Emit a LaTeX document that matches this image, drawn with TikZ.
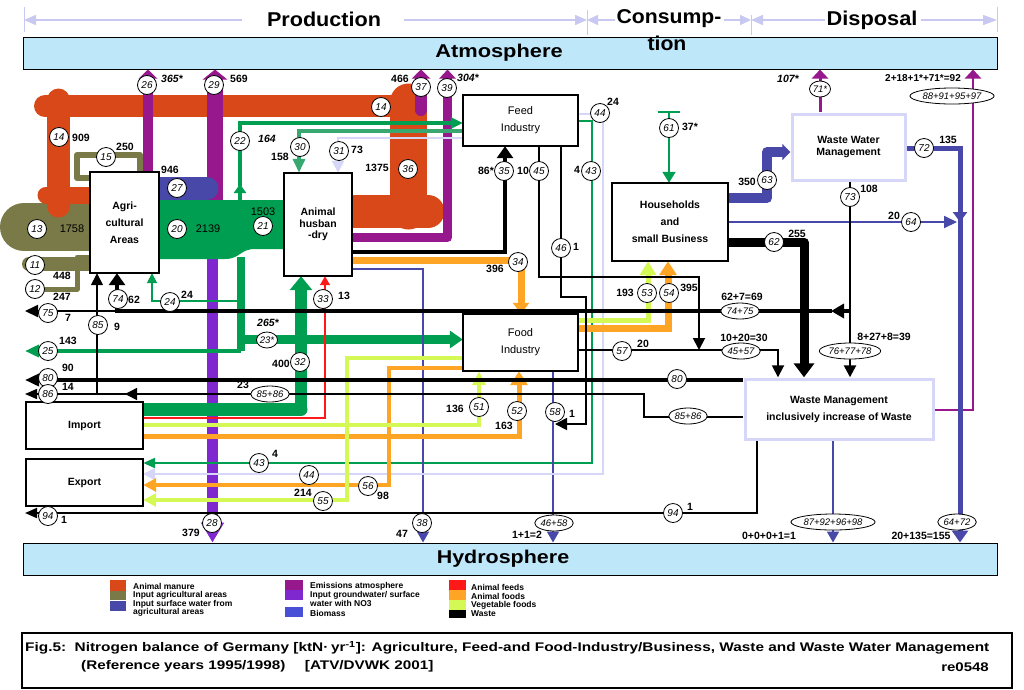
\documentclass[tikz,border=0pt]{standalone}
\usepackage{fontspec}
\setmainfont{Liberation Sans}
\usetikzlibrary{arrows.meta,shapes.geometric}
\definecolor{mn}{RGB}{216,72,24}
\definecolor{ol}{RGB}{122,122,72}
\definecolor{gr}{RGB}{0,158,80}
\definecolor{grt}{RGB}{56,168,112}
\definecolor{bl}{RGB}{72,72,168}
\definecolor{em}{RGB}{150,24,140}
\definecolor{gw}{RGB}{128,40,208}
\definecolor{bio}{RGB}{72,80,216}
\definecolor{og}{RGB}{255,165,38}
\definecolor{yg}{RGB}{212,248,84}
\definecolor{lv}{RGB}{214,214,248}
\definecolor{lvd}{RGB}{200,200,240}
\definecolor{sky}{RGB}{191,231,250}
\definecolor{rd}{RGB}{255,24,24}
\begin{document}
\begin{tikzpicture}[x=1pt,y=-1pt,
  box/.style={draw, fill=white, line width=1.1pt, inner sep=0pt, align=center,
     font=\bfseries\fontsize{10.5}{17}\selectfont},
  lbox/.style={box, draw=lv, line width=3pt},
  bar/.style={draw, fill=sky, line width=1pt, minimum width=974pt, minimum height=32pt, inner sep=0pt},
  ttl/.style={font=\bfseries\fontsize{20}{20}\selectfont, inner sep=0pt},
  cl/.style={circle, draw, fill=white, line width=0.8pt, inner sep=0pt, minimum size=19pt, font=\itshape\fontsize{10}{10}\selectfont},
  el/.style={ellipse, draw, fill=white, line width=0.8pt, inner sep=0.3pt, minimum height=16pt, font=\itshape\fontsize{9.5}{10}\selectfont},
  nm/.style={font=\bfseries\fontsize{10.5}{11}\selectfont, inner sep=0pt},
  nmi/.style={font=\bfseries\itshape\fontsize{10.5}{11}\selectfont, inner sep=0pt},
  nmr/.style={font=\fontsize{11}{11}\selectfont, inner sep=0pt},
  lg/.style={anchor=west, inner sep=0pt, font=\bfseries\fontsize{8.5}{9}\selectfont},
  arr/.style args={#1/#2}{-{Triangle[length=#1pt,width=#2pt]}},
]
\useasboundingbox (0,0) rectangle (1024,689);

% ---------------- bars ----------------
\node[bar] (atm) at (510,53) {};
\node[bar] (hyd) at (510,559) {};
\node[ttl, font=\bfseries\fontsize{18.5}{19}\selectfont] (atmt) at (499,53) {\scalebox{1.18}[1]{Atmosphere}};
\node[ttl, font=\bfseries\fontsize{18.5}{19}\selectfont] (hydt) at (503,559) {\scalebox{1.16}[1]{Hydrosphere}};

% ---------------- header ----------------
\node[ttl] (hprod) at (324,19) {\scalebox{1.08}[1]{Production}};
\node[ttl] (hcons) at (669,19) {\scalebox{1.06}[1]{Consump-}};
\node[ttl] (hcons2) at (667,43) {\scalebox{1.06}[1]{tion}};
\node[ttl] (hdisp) at (872,20) {\scalebox{1.09}[1]{Disposal}};
\coordinate (t1) at (24,20); \coordinate (t2) at (587,20);
\coordinate (t3) at (751,20); \coordinate (t4) at (997,20);
\draw[lvd, line width=1pt] (24,7) -- (24,32) (587,10) -- (587,35) (751,15) -- (751,35) (997,7) -- (997,32);
\draw[lvd, line width=1.5pt, arr=12/10] (242,20) -- (t1);
\draw[lvd, line width=1.5pt, arr=12/10] (404,20) -- (t2);
\draw[lvd, line width=1.5pt, arr=11/10] (615,20) -- (t2);
\draw[lvd, line width=1.5pt, arr=11/10] (724,20) -- (t3);
\draw[lvd, line width=1.5pt, arr=12/10] (825,20) -- (t3);
\draw[lvd, line width=1.5pt, arr=14/10] (921,20) -- (t4);

% ---------------- boxes (for anchors; drawn later) ----------------
\path[every node/.style={inner sep=0pt}]
  (124.5,222.5) node[minimum width=69pt, minimum height=101pt] (agri) {}
  (318,224.5) node[minimum width=68pt, minimum height=103pt] (ah) {}
  (520.5,120.5) node[minimum width=115pt, minimum height=51pt] (feed) {}
  (670,222) node[minimum width=116pt, minimum height=78pt] (hh) {}
  (848.5,147) node[minimum width=116pt, minimum height=69pt] (wwm) {}
  (520.5,342.5) node[minimum width=115pt, minimum height=57pt] (food) {}
  (839,409) node[minimum width=191pt, minimum height=63pt] (wm) {}
  (84.5,425.5) node[minimum width=117pt, minimum height=47pt] (imp) {}
  (84.5,482.5) node[minimum width=117pt, minimum height=47pt] (exp) {};

% ---------------- olive ----------------
\draw[ol, line width=48pt, line cap=round] (24,227) -- (agri.west |- 0,227);
\draw[ol, line width=14pt, line cap=round] (29,264) -- (agri.west |- 0,264);
\draw[ol, line width=5pt, line join=round] (agri.west |- 0,257) -- (77,257) -- (77,289) -- (25,289);
\draw[ol, line width=6pt, line join=round, line cap=round] (agri.west |- 0,178) -- (77,178) -- (77,155) -- (140,155) -- (140,0 |- agri.north);

% ---------------- manure ----------------
\draw[mn, line width=33pt, line cap=round] (ah.east |- 0,211.5) -- (428,211.5);
\draw[mn, line width=37pt, line cap=round] (408.5,211) -- (408.5,102);
\draw[mn, line width=22pt, line cap=round] (408,106) -- (45,106);
\draw[mn, line width=23pt, line cap=round] (58.5,100) -- (58.5,206);
\draw[mn, line width=17pt, line cap=round] (46,195) -- (agri.west |- 0,195);

% ---------------- emissions (purple) ----------------
\draw[em, line width=10pt, arr=9/18] (148,0 |- agri.north) -- (148,0 |- atm.south);
\draw[em, line width=16pt, arr=10/24] (215,205) -- (215,0 |- atm.south);
\draw[em, line width=12pt, line cap=round, arr=9/18] (421,110) -- (421,0 |- atm.south);
\draw[em, line width=9pt, line join=round, arr=9/16] (ah.east |- 0,237.5) -- (447.5,237.5) -- (447.5,0 |- atm.south);
\draw[em, line width=3pt, arr=9/16] (820,0 |- wwm.north) -- (820,0 |- atm.south);
\draw[em, line width=2.5pt, arr=9/16] (wm.east |- 0,410) -- (973,410) -- (973,0 |- atm.south);

% ---------------- groundwater (violet) ----------------
\draw[gw, line width=11pt, arr=20/22] (212.5,255) -- (212.5,0 |- hyd.north);

% ---------------- green ----------------
\fill[gr] (agri.east |- 0,200) -- (ah.west |- 0,200) -- (ah.west |- 0,249) -- (255,249)
   .. controls (240,249) and (240,259) .. (225,259) -- (agri.east |- 0,259) -- cycle;
\draw[gr, line width=4pt, arr=9/12] (240,203) -- (240,184);
\draw[gr, line width=4pt, arr=12/11] (240,186) -- (240,123) -- (feed.west |- 0,123);
\draw[grt, line width=4pt, arr=14/12] (feed.west |- 0,131) -- (299,131) -- (299,0 |- ah.north);
\draw[gr, line width=8pt] (241,257) -- (241,351);
\draw[gr, line width=9pt, arr=13/17] (237,339.5) -- (food.west |- 0,339.5);
\coordinate (o25) at (25,351);
\draw[gr, line width=4pt, arr=14/12] (241,351) -- (o25);
\draw[gr, line width=1.8pt, arr=10/10] (241,301) -- (152,301) -- (152,0 |- agri.south);
\draw[gr, line width=13pt, line cap=round] (imp.east |- 0,409.5) -- (301,409.5);
\draw[gr, line width=12pt, arr=14/22] (301,409) -- (301,0 |- ah.south);
\draw[gr, line width=2.5pt, arr=12/10] (feed.east |- 0,121) -- (592,121) -- (592,463) -- (exp.east |- 0,463);
\coordinate (g61) at (669,112);
\draw[gr, line width=2pt] (658,112) -- (680,112);
\draw[gr, line width=2pt, arr=11/13] (g61) -- (669,0 |- hh.north);

% ---------------- biomass / surface water (blue) ----------------
\draw[bl, line width=23pt, line cap=round] (agri.east |- 0,188.5) -- (207,188.5);
\draw[bl, line width=1.8pt, arr=11/12] (ah.east |- 0,269) -- (423,269) -- (423,0 |- hyd.north);
\draw[bl, line width=1.8pt, arr=11/12] (553,0 |- food.south) -- (553,0 |- hyd.north);
\draw[bl, line width=10pt, line join=round, arr=8/16] (hh.east |- 0,198) -- (767,198) -- (767,152) -- (wwm.west |- 0,152);
\draw[bl, line width=1.8pt, arr=13/12] (hh.east |- 0,222) -- (957,222);
\draw[bl, line width=5pt, arr=12/16] (wwm.east |- 0,148) -- (960,148) -- (960,0 |- hyd.north);
\draw[bl, line width=5pt, arr=10/14] (960,200) -- (960,222);
\draw[bl, line width=1.8pt, arr=11/12] (833,0 |- wm.south) -- (833,0 |- hyd.north);

% ---------------- lavender ----------------
\draw[lv, line width=2.5pt, arr=12/12] (feed.west |- 0,138) -- (338,138) -- (338,0 |- ah.north);
\draw[lv, line width=2.5pt, arr=12/12] (feed.east |- 0,114) -- (603,114) -- (603,474) -- (exp.east |- 0,474);

% ---------------- red ----------------
\draw[rd, line width=1.5pt, arr=9/10] (imp.east |- 0,418) -- (325,418) -- (325,0 |- ah.south);

% ---------------- orange ----------------
\draw[og, line width=7pt, arr=11/16] (ah.east |- 0,260) -- (521,260) -- (521,0 |- food.north);
\draw[og, line width=5pt, arr=14/17] (imp.east |- 0,436.5) -- (519,436.5) -- (519,0 |- food.south);
\draw[og, line width=7pt, line cap=round, arr=14/17] (food.east |- 0,328) -- (668,328) -- (668,0 |- hh.south);
\draw[og, line width=4.5pt, arr=13/13] (food.west |- 0,368) -- (389,368) -- (389,485) -- (exp.east |- 0,485);

% ---------------- vegetable foods ----------------
\draw[yg, line width=4pt, arr=14/13] (imp.east |- 0,425) -- (479,425) -- (479,0 |- food.south);
\draw[yg, line width=5pt, arr=14/16] (food.east |- 0,320) -- (648,320) -- (648,0 |- hh.south);
\draw[yg, line width=4.5pt, arr=13/13] (food.west |- 0,358) -- (347,358) -- (347,500) -- (exp.east |- 0,500);

% ---------------- waste (black) ----------------
\draw[line width=4pt, arr=12/16] (ah.east |- 0,251.5) -- (505,251.5) -- (505,0 |- feed.south);
\coordinate (j45) at (699,350);
\draw[line width=1.8pt, arr=12/12] (539,0 |- feed.south) -- (539,277) -- (699,277) -- (j45);
\draw[line width=1.8pt, arr=12/12] (561,0 |- feed.south) -- (561,297) -- (586,297) -- (586,424) -- (555,424);
\draw[line width=1.8pt, arr=12/12] (food.east |- 0,350) -- (778,350) -- (778,0 |- wm.north);
\draw[line width=9pt, line join=round, arr=14/20] (hh.east |- 0,242) -- (804,242) -- (804,0 |- wm.north);
\draw[line width=2.5pt, arr=12/12] (850,0 |- wwm.south) -- (850,0 |- wm.north);
\draw[line width=4pt, arr=13/14] (850,311) -- (831,311);
\draw[line width=4pt, arr=12/16] (832,311) -- (117,311) -- (117,0 |- agri.south);
\coordinate (o75) at (25,311);
\draw[line width=2pt, arr=13/12] (117,311) -- (o75);
\coordinate (o80) at (25,380);
\draw[line width=4pt, arr=14/12] (wm.west |- 0,380) -- (o80);
\coordinate (o86) at (25,394);
\draw[line width=1.5pt, arr=12/10] (wm.west |- 0,417) -- (644,417) -- (644,394) -- (o86);
\draw[line width=1.5pt, arr=12/12] (150,394) -- (125,394);
\draw[line width=1.5pt, arr=12/12] (97,394) -- (97,0 |- agri.south);
\coordinate (o94) at (25,513);
\draw[line width=2pt, arr=12/10] (757,0 |- wm.south) -- (757,513) -- (o94);

% ---------------- boxes ----------------
\node[box, minimum width=69pt, minimum height=101pt] (agriB) at (agri) {Agri-\\cultural\\Areas};
\node[box, minimum width=68pt, minimum height=103pt, font=\bfseries\fontsize{10.5}{11.5}\selectfont] (ahB) at (ah) {Animal\\husban\\-dry};
\node[box, font=\fontsize{11}{17}\selectfont, minimum width=115pt, minimum height=51pt] (feedB) at (feed) {Feed\\Industry};
\node[box, minimum width=116pt, minimum height=78pt] (hhB) at (hh) {Households\\and\\small Business};
\node[lbox, minimum width=113pt, minimum height=66pt, font=\bfseries\fontsize{10.5}{12.5}\selectfont] (wwmB) at (wwm) {Waste Water\\Management};
\node[box, font=\fontsize{11}{17}\selectfont, minimum width=115pt, minimum height=57pt] (foodB) at (food) {Food\\Industry};
\node[lbox, minimum width=188pt, minimum height=60pt] (wmB) at (wm) {Waste Management\\inclusively increase of Waste};
\node[box, minimum width=117pt, minimum height=47pt] (impB) at (imp) {Import};
\node[box, minimum width=117pt, minimum height=47pt] (expB) at (exp) {Export};

% ---------------- labels ----------------
\node[cl] (c14a) at (59,137) {14};   \node[nm] (n909) at (81,138) {909};
\node[cl] (c15) at (106,157) {15};   \node[nm] (n250) at (125,147) {250};
\node[cl] (c13) at (37,229) {13};    \node[nmr] (n1758) at (72,229) {1758};
\node[cl] (c11) at (35,265) {11};    \node[nm] (n448) at (62,276) {448};
\node[cl] (c12) at (35,289) {12};    \node[nm] (n247) at (62,297) {247};
\node[cl] (c26) at (147,85) {26};    \node[nmi] (n365) at (172,79) {365*};
\node[cl] (c29) at (214,85) {29};    \node[nm] (n569) at (239,79) {569};
\node[cl] (c27) at (177,188) {27};   \node[nm] (n946) at (170,170) {946};
\node[cl] (c20) at (177,229) {20};   \node[nmr] (n2139) at (208,229) {2139};
\node[cl] (c21) at (263,226) {21};   \node[nmr] (n1503) at (263,212) {1503};
\node[cl] (c22) at (240,141) {22};   \node[nmi] (n164) at (267,139) {164};
\node[cl] (c30) at (300,147) {30};   \node[nm] (n158) at (280,157) {158};
\node[cl] (c31) at (339,151) {31};   \node[nm] (n73) at (357,150) {73};
\node[cl] (c37) at (421,87) {37};    \node[nm] (n466) at (400,79) {466};
\node[cl] (c39) at (447,88) {39};    \node[nmi] (n304) at (468,78) {304*};
\node[cl] (c14b) at (381,107) {14};
\node[cl] (c36) at (408,169) {36};   \node[nm] (n1375) at (377,168) {1375};
\node[cl] (c35) at (504,171) {35};   \node[nm] (n86s) at (486,171) {86*};
\node[cl] (c45) at (539,171) {45};   \node[nm] (n10) at (523,171) {10};
\node[cl] (c43a) at (591,171) {43};  \node[nm] (n4a) at (577,170) {4};
\node[cl] (c44a) at (600,113) {44};  \node[nm] (n24a) at (613,102) {24};
\node[cl] (c46) at (561,248) {46};   \node[nm] (n1a) at (576,247) {1};
\node[cl] (c34) at (518,262) {34};   \node[nm] (n396) at (495,269) {396};
\node[cl] (c61) at (669,128) {61};   \node[nm] (n37) at (690,127) {37*};
\node[el] (e71) at (820,89) {71*};   \node[nmi] (n107) at (788,79) {107*};
\node[el] (e88) at (952,96) {88+91+95+97};
\node[nm, font=\bfseries\fontsize{10}{10}\selectfont] (n92) at (923,78) {2+18+1*+71*=92};
\node[cl] (c63) at (767,180) {63};   \node[nm] (n350) at (747,182) {350};
\node[cl] (c72) at (924,148) {72};   \node[nm] (n135) at (948,140) {135};
\node[cl] (c73) at (850,197) {73};   \node[nm] (n108) at (869,189) {108};
\node[cl] (c64) at (911,222) {64};   \node[nm] (n20a) at (894,216) {20};
\node[cl] (c62) at (774,242) {62};   \node[nm] (n255) at (797,234) {255};
\node[cl] (c53) at (647,293) {53};   \node[nm] (n193) at (625,293) {193};
\node[cl] (c54) at (669,293) {54};   \node[nm] (n395) at (689,288) {395};
\node[el] (e7475) at (740,311) {74+75};     \node[nm] (n69) at (742,297) {62+7=69};
\node[cl] (c57) at (622,351) {57};   \node[nm] (n20b) at (643,344) {20};
\node[el] (e4557) at (741,351) {45+57};     \node[nm] (n30) at (744,338) {10+20=30};
\node[el] (e767778) at (850,351) {76+77+78}; \node[nm] (n39) at (884,337) {8+27+8=39};
\node[cl] (c80a) at (677,379) {80};
\node[el] (e8586a) at (688,416) {85+86};
\node[cl] (c74) at (118,299) {74};   \node[nm] (n62) at (134,300) {62};
\node[cl] (c24) at (170,302) {24};   \node[nm] (n24b) at (187,295) {24};
\node[cl] (c75) at (48,313) {75};    \node[nm] (n7) at (68,318) {7};
\node[cl] (c85) at (98,325) {85};    \node[nm] (n9) at (117,327) {9};
\node[cl] (c33) at (323,299) {33};   \node[nm] (n13) at (344,296) {13};
\node[el] (e23) at (267,340) {23*};  \node[nmi] (n265) at (268,323) {265*};
\node[cl] (c25) at (48,351) {25};    \node[nm] (n143) at (68,341) {143};
\node[cl] (c32) at (300,362) {32};   \node[nm] (n400) at (281,364) {400};
\node[cl] (c80b) at (48,378) {80};   \node[nm] (n90) at (68,368) {90};
\node[cl] (c86) at (48,394) {86};    \node[nm] (n14) at (68,387) {14};
\node[el] (e8586b) at (270,394) {85+86};    \node[nm] (n23) at (243,385) {23};
\node[cl] (c51) at (479,407) {51};   \node[nm] (n136) at (455,409) {136};
\node[cl] (c52) at (517,411) {52};   \node[nm] (n163) at (504,426) {163};
\node[cl] (c58) at (555,412) {58};   \node[nm] (n1b) at (572,414) {1};
\node[cl] (c43b) at (259,463) {43};  \node[nm] (n4b) at (275,454) {4};
\node[cl] (c44b) at (309,475) {44};
\node[cl] (c56) at (368,486) {56};   \node[nm] (n98) at (383,496) {98};
\node[cl] (c55) at (323,501) {55};   \node[nm] (n214) at (303,493) {214};
\node[cl] (c94a) at (48,516) {94};   \node[nm] (n1c) at (64,520) {1};
\node[cl] (c28) at (212,523) {28};   \node[nm] (n379) at (191,533) {379};
\node[cl] (c38) at (422,523) {38};   \node[nm] (n47) at (402,534) {47};
\node[el] (e4658) at (554,523) {46+58};     \node[nm] (n2) at (527,535) {1+1=2};
\node[cl] (c94b) at (673,513) {94};  \node[nm] (n1d) at (690,507) {1};
\node[el] (e87) at (833,522) {87+92+96+98}; \node[nm] (n0) at (769,536) {0+0+0+1=1};
\node[el] (e6472) at (957,522) {64+72};     \node[nm] (n155) at (921,536) {20+135=155};

% ---------------- legend ----------------
\fill[mn] (110,580) rectangle (126,591);
\fill[ol] (110,591) rectangle (126,600);
\fill[bl] (110,601) rectangle (126,611);
\node[lg] (l1) at (133,586) {Animal manure};
\node[lg] (l2) at (133,595) {Input agricultural areas};
\node[lg] (l3) at (133,604) {Input surface water from};
\node[lg] (l4) at (133,612) {agricultural areas};
\fill[em] (285,580) rectangle (303,590);
\fill[gw] (285,590) rectangle (303,600);
\fill[bio] (285,607) rectangle (303,617);
\node[lg] (l5) at (310,586) {Emissions atmosphere};
\node[lg] (l6) at (310,595) {Input groundwater/ surface};
\node[lg] (l7) at (310,603) {water with NO3};
\node[lg] (l8) at (310,613) {Biomass};
\fill[rd] (449,580) rectangle (466,590);
\fill[og] (449,590) rectangle (466,600);
\fill[yg] (449,600) rectangle (466,610);
\fill[black] (449,610) rectangle (466,618);
\node[lg] (l9) at (471,587) {Animal feeds};
\node[lg] (l10) at (471,596) {Animal foods};
\node[lg] (l11) at (471,605) {Vegetable foods};
\node[lg] (l12) at (471,614) {Waste};

% ---------------- caption ----------------
\node[draw, line width=1.5pt, minimum width=990pt, minimum height=55pt, inner sep=0pt] (capbox) at (517,660.5) {};
\node[anchor=west, inner sep=0pt, font=\bfseries\fontsize{12.5}{14}\selectfont] (cap1) at (25,648)
  {\scalebox{1.23}[1]{Fig.5:\ \ Nitrogen balance of Germany [ktN\textperiodcentered\,yr\textsuperscript{-1}]: Agriculture, Feed-and Food-Industry/Business, Waste and Waste Water Management}};
\node[anchor=west, inner sep=0pt, font=\bfseries\fontsize{12.5}{14}\selectfont] (cap2) at (81,666)
  {\scalebox{1.22}[1]{(Reference years 1995/1998)\quad\ [ATV/DVWK 2001]}};
\node[anchor=east, inner sep=0pt, font=\bfseries\fontsize{12.5}{14}\selectfont] (cap3) at (989,667) {\scalebox{1.2}[1]{re0548}};
\end{tikzpicture}
\end{document}
